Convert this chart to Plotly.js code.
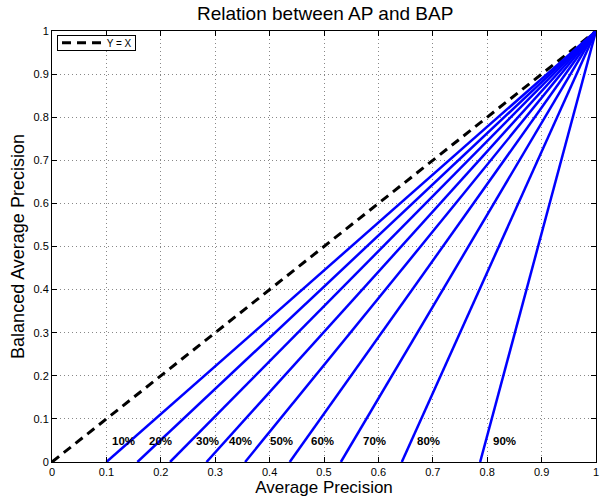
<!DOCTYPE html>
<html><head><meta charset="utf-8">
<script src="https://cdn.plot.ly/plotly-3.0.1.min.js"></script>
<style>html,body{margin:0;padding:0;background:#fff}#chart{width:600px;height:501px}</style>
</head><body><div id="chart"></div>
<script>
// x-intercepts (AP where BAP = 0) for each percentage line; all lines end at (1,1)
const percentLabels = ["10%","20%","30%","40%","50%","60%","70%","80%","90%"];
const lineStartX = [0.100, 0.157, 0.217, 0.284, 0.355, 0.437, 0.531, 0.643, 0.787];
const lineEndX = 1;
const lineStartY = 0;
const lineEndY = 1;
const labelX = [0.132, 0.199, 0.285, 0.347, 0.422, 0.497, 0.592, 0.692, 0.832];
const labelY = 0.048;
const diagX = [0, 1];
const diagY = [0, 1];
const diagName = "Y = X";
const tickVals = [0,0.1,0.2,0.3,0.4,0.5,0.6,0.7,0.8,0.9,1];
const tickText = ["0","0.1","0.2","0.3","0.4","0.5","0.6","0.7","0.8","0.9","1"];

const font = "Liberation Sans, Arial, sans-serif";
const diagLine = {color: "#000", width: 3, dash: "9px,6px"};
const traces = [{
  x: diagX, y: diagY, mode: "lines", name: diagName,
  line: diagLine, showlegend: false
}];
lineStartX.forEach((x0, i) => {
  traces.push({
    x: [x0, lineEndX], y: [lineStartY, lineEndY], mode: "lines",
    line: {color: "#0000ff", width: 2.5}, showlegend: false, name: percentLabels[i]
  });
});
const annotations = percentLabels.map((t, i) => ({
  x: labelX[i], y: labelY, xref: "x", yref: "y", text: "<b>" + t + "</b>",
  showarrow: false, font: {family: font, size: 11.5, color: "#000"}
}));
// legend box (bordered annotation) + sample line
annotations.push({
  x: 0.0086, y: 0.9907, xref: "paper", yref: "paper", xanchor: "left", yanchor: "top",
  width: 75, height: 12, align: "right", valign: "middle",
  bordercolor: "#000", borderwidth: 1, borderpad: 1,
  text: diagName + " ", showarrow: false, font: {family: font, size: 10, color: "#000"}
});
const shapes = [
  {type: "rect", xref: "paper", yref: "paper", x0: 0.0086, x1: 0.1544, y0: 0.9543, y1: 0.9907,
   line: {width: 0}, fillcolor: "#fff", layer: "above"},
  {type: "line", xref: "paper", yref: "paper", x0: 0.0184, x1: 0.0901, y0: 0.9725, y1: 0.9725,
   line: diagLine, layer: "above"}
];
const axisCommon = {
  range: [0, 1], tickvals: tickVals, ticktext: tickText,
  ticks: "inside", ticklen: 5, tickcolor: "#000", mirror: "ticks",
  showline: true, linecolor: "#000", linewidth: 1,
  showgrid: true, gridcolor: "#888", griddash: "1px,3px", gridwidth: 1,
  zeroline: false, tickfont: {family: font, size: 11, color: "#000"},
  ticklabeloverflow: "allow"
};
const layout = {
  width: 600, height: 501,
  margin: {l: 52, r: 4, t: 31, b: 39},
  paper_bgcolor: "#fff", plot_bgcolor: "#fff",
  title: {text: "Relation between AP and BAP", font: {family: font, size: 19, color: "#000"},
          x: 0.542, xanchor: "center", y: 0.974, yanchor: "middle"},
  xaxis: Object.assign({}, axisCommon, {title: {text: "Average Precision", font: {family: font, size: 17, color: "#000"}, standoff: 3}}),
  yaxis: Object.assign({}, axisCommon, {title: {text: "Balanced Average Precision", font: {family: font, size: 18, color: "#000"}, standoff: 4}}),
  showlegend: false,
  annotations: annotations,
  shapes: shapes
};
Plotly.newPlot("chart", traces, layout, {displayModeBar: false, staticPlot: true});
</script></body></html>
